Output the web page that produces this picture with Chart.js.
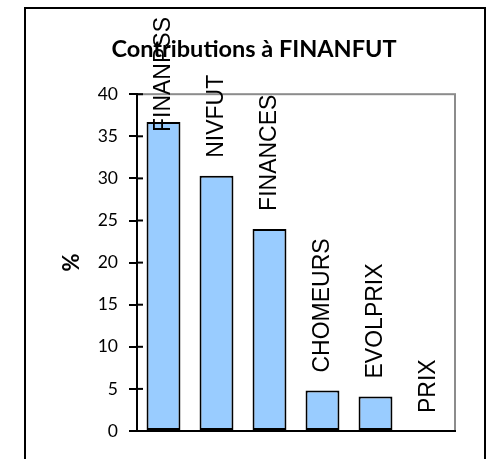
<!DOCTYPE html>
<html>
<head>
<meta charset="utf-8">
<script src="https://cdn.jsdelivr.net/npm/chart.js@4/dist/chart.umd.min.js"></script>
<style>
  html, body { margin: 0; padding: 0; background: #fff; }
</style>
</head>
<body>
<canvas id="chartContrib" width="490" height="459"></canvas>
<script>
// contributions a FINANFUT (%)
var categories = ['FINANPSS', 'NIVFUT', 'FINANCES', 'CHOMEURS', 'EVOLPRIX', 'PRIX'];
var values = [36.7, 30.3, 24.0, 4.8, 4.1, 0];
var yTicks = [0, 5, 10, 15, 20, 25, 30, 35, 40];

// cadre exterieur + bord gris de la zone de trace
var framePlugin = {
  id: 'frame',
  beforeDraw: function(chart) {
    var ctx = chart.ctx, a = chart.chartArea;
    ctx.save();
    ctx.strokeStyle = '#000';
    ctx.lineWidth = 2;
    ctx.strokeRect(25, 8, 460, 480);
    ctx.strokeStyle = '#8c8c8c';
    ctx.strokeRect(a.left, a.top, a.right - a.left, a.bottom - a.top);
    ctx.restore();
  },
  afterDatasetsDraw: function(chart) {
    // petite partie des graduations a l'interieur
    var ctx = chart.ctx, y = chart.scales.y, a = chart.chartArea;
    ctx.save();
    ctx.strokeStyle = '#000';
    ctx.lineWidth = 2;
    yTicks.forEach(function(v) {
      var py = y.getPixelForValue(v);
      ctx.beginPath();
      ctx.moveTo(a.left, py);
      ctx.lineTo(a.left + 6, py);
      ctx.stroke();
    });
    ctx.restore();
  },
  afterDraw: function(chart) {
    // etiquettes verticales au-dessus des barres
    var ctx = chart.ctx;
    var bars = chart.getDatasetMeta(0).data;
    ctx.save();
    ctx.font = '23px "Liberation Sans"';
    ctx.fillStyle = '#000';
    ctx.textAlign = 'left';
    ctx.textBaseline = 'middle';
    bars.forEach(function(bar, i) {
      var txt = categories[i];
      var w = ctx.measureText(txt).width;
      var bottom = bar.y - 18;
      if (bottom - w < 17) bottom = 17 + w;
      ctx.save();
      ctx.translate(bar.x, bottom);
      ctx.rotate(-Math.PI / 2);
      ctx.fillText(txt, 0, 0);
      ctx.restore();
    });
    ctx.restore();
  }
};

var chart = new Chart(document.getElementById('chartContrib'), {
  type: 'bar',
  data: {
    labels: categories,
    datasets: [{
      label: '%',
      data: values,
      backgroundColor: '#99ccff',
      borderColor: '#000',
      borderWidth: 2,
      borderSkipped: false,
      barPercentage: 0.64,
      categoryPercentage: 1
    }]
  },
  options: {
    responsive: false,
    animation: false,
    layout: { padding: { left: 53, right: 35, top: 0, bottom: 28 } },
    plugins: {
      legend: { display: false },
      tooltip: { enabled: false },
      title: {
        display: true,
        text: 'Contributions à FINANFUT',
        color: '#000',
        font: { family: 'Lato', size: 23.5, weight: 'bold' },
        padding: { top: 35, bottom: 31 }
      }
    },
    scales: {
      x: {
        grid: { display: false },
        ticks: { display: false },
        border: { color: '#000', width: 2 },
        afterFit: function(s) { s.height = 0; }
      },
      y: {
        min: 0,
        max: 40,
        afterBuildTicks: function(s) { s.ticks = yTicks.map(function(v) { return { value: v }; }); },
        ticks: { color: '#000', padding: 11, font: { family: 'Lato', size: 17.5 } },
        grid: { drawOnChartArea: false, color: '#000', lineWidth: 2, tickLength: 8 },
        border: { color: '#000', width: 2 },
        title: {
          display: true,
          text: '%',
          color: '#000',
          font: { family: 'Lato', size: 22, weight: 'bold' },
          padding: { top: 6 }
        },
        afterFit: function(s) { s.width = 84; }
      }
    }
  },
  plugins: [framePlugin]
});
</script>
</body>
</html>
